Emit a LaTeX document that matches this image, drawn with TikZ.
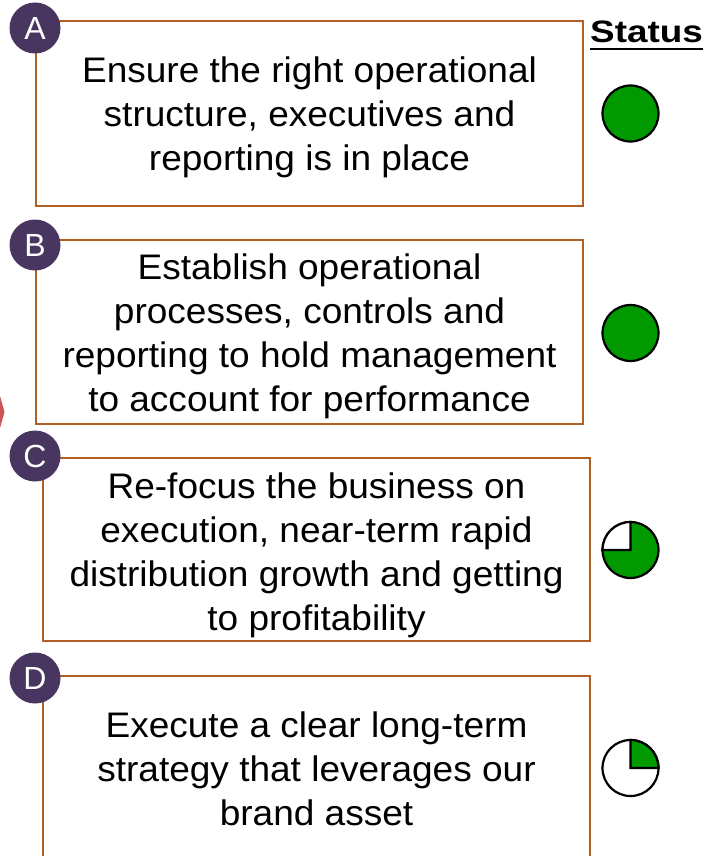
\documentclass[tikz,border=0pt]{standalone}
\usepackage{fontspec}
\setmainfont{Liberation Sans}
\newfontfamily\boxfont[FakeStretch=1.043]{Liberation Sans}
\newfontfamily\statfont[FakeStretch=1.19]{Liberation Sans Bold}
\definecolor{boxbrown}{RGB}{176,96,36}
\definecolor{letterpurple}{RGB}{72,54,96}
\definecolor{statgreen}{RGB}{0,153,0}
\definecolor{slivered}{RGB}{205,85,85}
\tikzset{
  goalbox/.style={draw=boxbrown, line width=1.6pt},
  goaltext/.style={align=center, font=\boxfont\fontsize{35.5}{44}\selectfont, inner sep=0pt},
  letterdot/.style={circle, fill=letterpurple, minimum size=51pt, inner sep=0pt, text=white, font=\fontsize{32}{32}\selectfont},
  statline/.style={draw=black, line width=2.2pt},
}
\begin{document}
\begin{tikzpicture}[x=1pt, y=-1pt]
\useasboundingbox (0,0) rectangle (705,856);
\fill[white] (0,0) rectangle (705,856);
% red sliver at left edge
\fill[slivered] (0,396) -- (2,403) -- (4.5,412) -- (2,421) -- (0,428) -- cycle;
% boxes
\draw[goalbox] (36,21) rectangle (583,206);
\draw[goalbox] (36,240) rectangle (583,424);
\draw[goalbox] (43,458) rectangle (590,641);
\draw[goalbox] (43,676) -- (43,870) (43,676) -- (590,676) -- (590,870);
% texts
\node[goaltext] (ta) at (309.5,117.5) {Ensure the right operational\\structure, executives and\\reporting is in place};
\node[goaltext] (tb) at (309.5,336) {Establish operational\\processes, controls and\\reporting to hold management\\to account for performance};
\node[goaltext] (tc) at (316.5,555) {Re-focus the business on\\execution, near-term rapid\\distribution growth and getting\\to profitability};
\node[goaltext] (td) at (316.5,769) {Execute a clear long-term\\strategy that leverages our\\brand asset};
% letters
\node[letterdot] (la) at (35,28) {A};
\node[letterdot] (lb) at (35,245) {B};
\node[letterdot] (lc) at (35,456) {C};
\node[letterdot] (ld) at (35,678) {D};
% status header
\node[anchor=base west, inner sep=0pt, font=\statfont\fontsize{31}{31}\selectfont] (st) at (590,43) {Status};
\draw[line width=2.6pt] (st.base west) ++(0,6) coordinate (u1) -- (st.base east |- u1);
% status circles
\filldraw[statline, fill=statgreen] (630.5,113.5) circle (28);
\filldraw[statline, fill=statgreen] (630.5,333) circle (28);
\filldraw[statline, fill=statgreen] (630.5,550) circle (28);
\filldraw[statline, fill=white] (630.5,550) -- (630.5,522) arc[start angle=-90, end angle=-180, radius=28] -- cycle;
\filldraw[statline, fill=white] (630.5,768) circle (28);
\filldraw[statline, fill=statgreen] (630.5,768) -- (630.5,740) arc[start angle=-90, end angle=0, radius=28] -- cycle;
\end{tikzpicture}
\end{document}
